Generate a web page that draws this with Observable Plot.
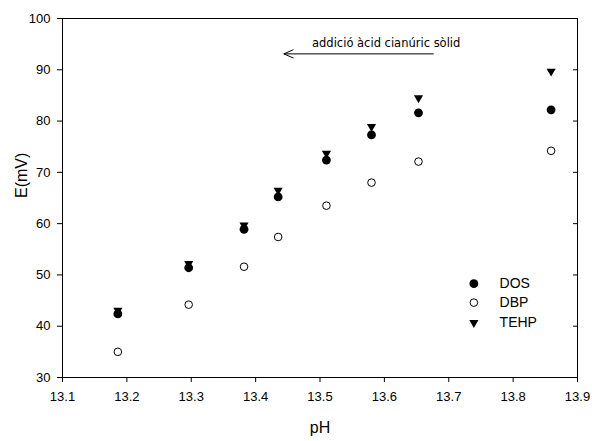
<!DOCTYPE html>
<html>
<head>
<meta charset="utf-8">
<script src="https://cdn.jsdelivr.net/npm/d3@7"></script>
<script src="https://cdn.jsdelivr.net/npm/@observablehq/plot@0.6"></script>
<style>
  html, body { margin: 0; padding: 0; background: #fff; }
  #chart svg { display: block; }
</style>
</head>
<body>
<div id="chart"></div>
<script>
// ---- data ----
const pH   = [13.186, 13.296, 13.382, 13.435, 13.510, 13.580, 13.653, 13.859];
const DOS  = [42.4, 51.4, 58.9, 65.2, 72.4, 77.3, 81.6, 82.2];
const DBP  = [35.0, 44.2, 51.6, 57.4, 63.5, 68.0, 72.1, 74.2];
const TEHP = [43.1, 52.2, 59.7, 66.5, 73.7, 78.9, 84.5, 89.7];
const seriesNames = ["DOS", "DBP", "TEHP"];
const xTicks = [13.1, 13.2, 13.3, 13.4, 13.5, 13.6, 13.7, 13.8, 13.9];
const yTicks = [30, 40, 50, 60, 70, 80, 90, 100];
const xLabel = "pH";
const yLabel = "E(mV)";
const annotationText = "addició àcid cianúric sòlid";

// ---- layout (not data) ----
const arrowFrom = {x: 13.676, y: 93.1};
const arrowTo = {x: 13.444, y: 93.1};
const annotationPos = {x: 13.4876, y: 95.1};
const legendSymbolX = 13.739, legendTextX = 13.779;
const legendRowsY = [48.3, 44.6, 40.7];

const rows = pH.map((p, i) => ({pH: p, DOS: DOS[i], DBP: DBP[i], TEHP: TEHP[i]}));
const legend = seriesNames.map((name, i) => ({name, x: legendSymbolX, tx: legendTextX, y: legendRowsY[i]}));

const axisFont = "'Liberation Sans', Arial, sans-serif";

const chart = Plot.plot({
  width: 592,
  height: 441,
  marginLeft: 62,
  marginRight: 15,
  marginTop: 18,
  marginBottom: 64,
  style: {fontFamily: axisFont, fontSize: "13px", color: "#000", background: "#fff"},
  x: {domain: [13.1, 13.9]},
  y: {domain: [30, 100]},
  marks: [
    Plot.frame({stroke: "#000", strokeWidth: 1}),
    Plot.axisX({ticks: xTicks, tickSize: 5, tickPadding: 9, tickFormat: d => d.toFixed(1), label: null, fontSize: 13}),
    Plot.axisY({ticks: yTicks, tickSize: 5, tickPadding: 7, tickFormat: d => String(d), label: null, fontSize: 13}),
    Plot.axisY({anchor: "right", ticks: yTicks, tickSize: -5, tickFormat: () => "", label: null}),
    Plot.text([xLabel], {frameAnchor: "bottom", dy: 55, fontSize: 16, fill: "#000"}),
    Plot.text([yLabel], {frameAnchor: "left", dx: -41, rotate: -90, fontSize: 16, fill: "#000"}),
    // annotation
    Plot.arrow([0], {x1: () => arrowFrom.x, y1: () => arrowFrom.y, x2: () => arrowTo.x, y2: () => arrowTo.y,
      stroke: "#000", strokeWidth: 1, headLength: 15, headAngle: 48}),
    Plot.text([annotationText], {x: () => annotationPos.x, y: () => annotationPos.y, textAnchor: "start",
      fontFamily: "'DejaVu Sans', Verdana, sans-serif", fontSize: 11.5, fill: "#000"}),
    // data
    Plot.dot(rows, {x: "pH", y: "TEHP", symbol: "triangle", rotate: 180, r: 3.4, fill: "#000", stroke: "none"}),
    Plot.dot(rows, {x: "pH", y: "DOS", symbol: "circle", r: 4.4, fill: "#000", stroke: "none"}),
    Plot.dot(rows, {x: "pH", y: "DBP", symbol: "circle", r: 3.8, fill: "#fff", stroke: "#000", strokeWidth: 1}),
    // legend
    Plot.dot(legend.slice(0, 1), {x: "x", y: "y", symbol: "circle", r: 4.4, fill: "#000", stroke: "none"}),
    Plot.dot(legend.slice(1, 2), {x: "x", y: "y", symbol: "circle", r: 3.8, fill: "#fff", stroke: "#000", strokeWidth: 1}),
    Plot.dot(legend.slice(2, 3), {x: "x", y: "y", symbol: "triangle", rotate: 180, r: 3.4, fill: "#000", stroke: "none"}),
    Plot.text(legend, {x: "tx", y: "y", text: "name", textAnchor: "start", fontSize: 14, fill: "#000"})
  ]
});
document.getElementById("chart").appendChild(chart);
</script>
</body>
</html>
